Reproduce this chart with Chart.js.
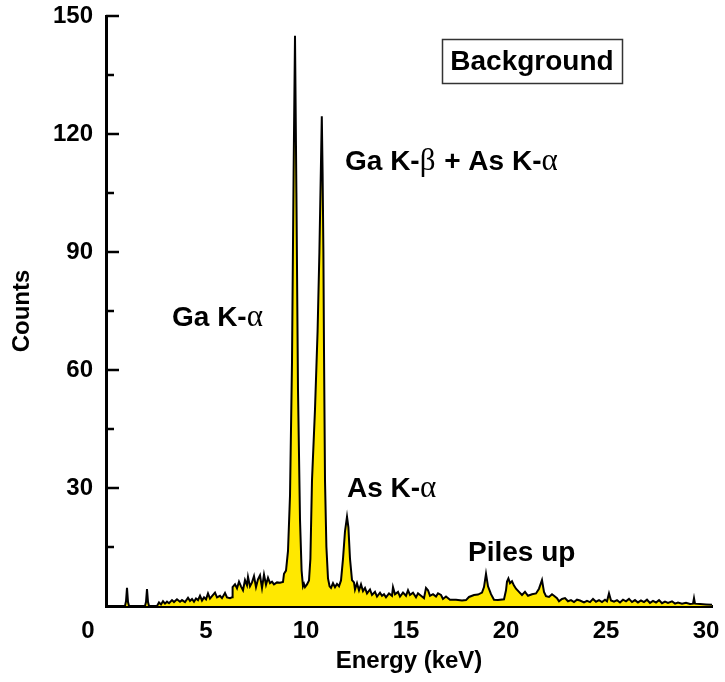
<!DOCTYPE html>
<html>
<head>
<meta charset="utf-8">
<script src="https://cdn.jsdelivr.net/npm/chart.js@4/dist/chart.umd.min.js"></script>
<style>
  html, body { margin: 0; padding: 0; background: #fff; }
  canvas { display: block; }
</style>
</head>
<body>
<canvas id="spectrum" width="725" height="682"></canvas>
<script>
// X-ray fluorescence spectrum: energy (keV) and detector counts
const energyKeV = [
  0, 0.95, 1.0, 1.05, 1.1, 1.15, 1.95, 2.0, 2.05, 2.1, 2.15, 2.55,
  2.65, 2.75, 2.85, 2.95, 3.05, 3.15, 3.3, 3.4, 3.55, 3.7, 3.8, 3.95,
  4.1, 4.2, 4.3, 4.4, 4.5, 4.6, 4.7, 4.8, 4.9, 5.0, 5.1, 5.2,
  5.3, 5.45, 5.55, 5.7, 5.8, 5.95, 6.05, 6.2, 6.3, 6.33, 6.45, 6.55,
  6.65, 6.75, 6.85, 6.95, 7.05, 7.1, 7.2, 7.3, 7.4, 7.5, 7.6, 7.7,
  7.8, 7.9, 8.0, 8.1, 8.2, 8.3, 8.4, 8.55, 8.7, 8.85, 8.9, 9.0,
  9.1, 9.2, 9.3, 9.38, 9.45, 9.52, 9.6, 9.7, 9.78, 9.85, 9.9, 9.95,
  10.05, 10.15, 10.22, 10.3, 10.45, 10.58, 10.67, 10.74, 10.79, 10.83, 10.87, 10.9,
  10.95, 11.02, 11.1, 11.18, 11.25, 11.35, 11.45, 11.55, 11.65, 11.75, 11.85, 11.95,
  12.05, 12.12, 12.2, 12.3, 12.4, 12.45, 12.55, 12.65, 12.75, 12.85, 12.95, 13.05,
  13.2, 13.3, 13.45, 13.55, 13.7, 13.8, 13.9, 14.0, 14.15, 14.3, 14.35, 14.45,
  14.6, 14.7, 14.85, 15.0, 15.1, 15.2, 15.35, 15.5, 15.6, 15.75, 15.9, 16.0,
  16.1, 16.2, 16.35, 16.5, 16.6, 16.75, 16.85, 17.0, 17.2, 17.5, 17.8, 18.0,
  18.15, 18.4, 18.6, 18.8, 18.9, 19.0, 19.1, 19.25, 19.4, 19.6, 19.9, 20.0,
  20.05, 20.12, 20.2, 20.3, 20.4, 20.5, 20.65, 20.8, 20.95, 21.1, 21.3, 21.5,
  21.65, 21.8, 21.9, 22.0, 22.15, 22.3, 22.4, 22.55, 22.65, 22.8, 22.95, 23.1,
  23.25, 23.4, 23.55, 23.7, 23.9, 24.05, 24.2, 24.35, 24.5, 24.65, 24.8, 24.95,
  25.05, 25.15, 25.25, 25.4, 25.55, 25.7, 25.85, 26.0, 26.15, 26.3, 26.45, 26.6,
  26.75, 26.9, 27.05, 27.2, 27.35, 27.5, 27.65, 27.8, 27.95, 28.1, 28.3, 28.45,
  28.6, 28.8, 29.0, 29.2, 29.35, 29.4, 29.45, 29.7, 30.0, 30.3
];
const counts = [
  0, 0, 1.2, 4.6, 1.0, 0, 0, 1.0, 4.3, 1.0, 0, 0,
  0.9, 0.4, 1.2, 0.6, 1.1, 0.7, 1.5, 1.0, 1.7, 1.1, 1.5, 1.0,
  2.1, 1.3, 1.8, 1.1, 1.9, 1.5, 2.6, 1.4, 2.2, 1.7, 3.2, 1.9,
  2.5, 3.4, 2.2, 2.6, 2.0, 3.3, 2.2, 2.0, 2.2, 4.8, 5.5, 4.5,
  6.2, 5.0, 4.0, 6.6, 5.3, 7.4, 5.0, 6.0, 7.6, 4.8, 6.8, 7.8,
  4.6, 8.0, 5.4, 7.2, 5.8, 6.2, 5.5, 6.0, 5.9, 6.1, 8.2, 9.0,
  14, 28, 62, 110, 145, 105, 55, 22, 9, 5, 5.6, 4.8,
  5.5, 6.5, 12, 32, 50, 70, 90, 110, 124.5, 110, 90, 65,
  32, 15, 7, 5, 4.6, 5.8, 4.8, 5.6, 5.0, 6.5, 12, 19,
  22.7, 20, 12, 6.6, 6.0, 4.2, 5.8, 4.0, 5.5, 3.8, 4.6, 3.2,
  4.2, 2.8, 3.6, 2.4, 3.4, 2.6, 3.0, 2.2, 3.2, 2.6, 4.8, 3.0,
  3.6, 2.4, 3.4, 2.6, 4.0, 2.8, 3.4, 2.2, 3.2, 2.6, 2.0, 4.6,
  4.0, 2.6, 3.0, 2.4, 3.2, 2.8, 1.8, 2.4, 1.6, 1.6, 1.4, 1.5,
  2.3, 2.8, 2.9, 3.4, 4.8, 8.2, 5.0, 3.0, 1.6, 1.5, 1.7, 4.0,
  6.2, 7.0, 5.8, 6.3, 5.2, 4.4, 3.6, 2.8, 3.6, 2.6, 3.0, 3.2,
  4.4, 6.6, 3.6, 2.5, 2.3, 3.0, 2.6, 2.0, 1.2, 1.8, 2.0, 1.2,
  1.5, 1.0, 1.6, 1.4, 0.9, 1.3, 1.0, 1.8, 1.1, 1.5, 1.0, 1.6,
  1.2, 3.2, 1.4, 1.1, 1.5, 0.9, 1.6, 1.2, 1.8, 1.0, 1.5, 0.9,
  1.4, 1.0, 1.6, 0.8, 1.3, 0.9, 1.5, 0.7, 1.1, 0.8, 1.2, 0.6,
  0.9, 0.6, 0.8, 0.5, 0.6, 2.0, 0.6, 0.5, 0.4, 0.3
];

// Axis ranges and labelled ticks
const xTickValues = [0, 5, 10, 15, 20, 25, 30];
const yTickLabels = [30, 60, 90, 120, 150];

// Peak annotations, anchored in data coordinates (energy, counts)
const annotations = [
  { x: 3.3,   y: 71.2,  parts: [['Ga K-', 'b'], ['\u03B1', 'g']] },
  { x: 11.95, y: 110.9, parts: [['Ga K-', 'b'], ['\u03B2', 'g'], [' + As K-', 'b'], ['\u03B1', 'g']] },
  { x: 12.05, y: 27.7,  parts: [['As K-', 'b'], ['\u03B1', 'g']] },
  { x: 18.1,  y: 11.4,  parts: [['Piles up', 'b']] }
];
const boxLabel = { x: 21.3, y: 138.6, text: 'Background' };

const points = energyKeV.map((e, i) => ({ x: e, y: counts[i] }));

const SANS = '"Liberation Sans", Arial, Helvetica, sans-serif';
const SERIF = '"Liberation Serif", "Times New Roman", serif';

// Inward tick marks on the counts axis (long every 30, short every 15)
const inwardTicks = {
  id: 'inwardTicks',
  afterDatasetsDraw(chart) {
    const y = chart.scales.y;
    const left = chart.chartArea.left;
    const ctx = chart.ctx;
    ctx.save();
    ctx.strokeStyle = '#000';
    ctx.lineWidth = 2.5;
    y.ticks.forEach(t => {
      if (t.value <= 0) return;
      const py = Math.round(y.getPixelForValue(t.value));
      const len = yTickLabels.includes(t.value) ? 13 : 8;
      ctx.beginPath();
      ctx.moveTo(left, py);
      ctx.lineTo(left + len, py);
      ctx.stroke();
    });
    ctx.restore();
  }
};

// Origin label on the energy axis, set a little left of the corner
const originLabel = {
  id: 'originLabel',
  afterDraw(chart) {
    const x = chart.scales.x;
    const ctx = chart.ctx;
    ctx.save();
    ctx.font = 'bold 24px ' + SANS;
    ctx.fillStyle = '#000';
    ctx.textAlign = 'center';
    ctx.textBaseline = 'middle';
    ctx.fillText('0', x.getPixelForValue(0) - 18, chart.chartArea.bottom + 11 + 14.4);
    ctx.restore();
  }
};

// Text labels for the peaks and the boxed title
const peakLabels = {
  id: 'peakLabels',
  afterDraw(chart) {
    const xs = chart.scales.x, ys = chart.scales.y;
    const ctx = chart.ctx;
    ctx.save();
    ctx.fillStyle = '#000';
    ctx.textBaseline = 'alphabetic';
    ctx.textAlign = 'left';
    const fonts = { b: 'bold 28px ' + SANS, g: '31px ' + SERIF };
    annotations.forEach(a => {
      let px = xs.getPixelForValue(a.x);
      const py = ys.getPixelForValue(a.y);
      a.parts.forEach(([t, f]) => {
        ctx.font = fonts[f];
        ctx.fillText(t, px, py);
        px += ctx.measureText(t).width + (f === 'g' ? 1 : 0);
      });
    });
    const cx = xs.getPixelForValue(boxLabel.x);
    const cy = ys.getPixelForValue(boxLabel.y);
    ctx.font = 'bold 28px ' + SANS;
    ctx.textAlign = 'center';
    ctx.textBaseline = 'middle';
    ctx.fillText(boxLabel.text, cx, cy + 1);
    ctx.strokeStyle = '#333';
    ctx.lineWidth = 1.5;
    ctx.strokeRect(Math.round(cx - 90) + 0.5, Math.round(cy - 22) + 0.5, 180, 44);
    ctx.restore();
  }
};

new Chart(document.getElementById('spectrum'), {
  type: 'line',
  data: {
    datasets: [{
      data: points,
      borderColor: '#000',
      borderWidth: 2,
      backgroundColor: '#ffe800',
      fill: 'origin',
      pointRadius: 0,
      tension: 0,
      borderJoinStyle: 'miter'
    }]
  },
  options: {
    responsive: false,
    animation: false,
    events: [],
    layout: { padding: { top: 16, right: 13, left: 0, bottom: 0 } },
    plugins: { legend: { display: false }, tooltip: { enabled: false } },
    scales: {
      x: {
        type: 'linear',
        min: 0,
        max: 30.3,
        afterBuildTicks: s => { s.ticks = xTickValues.map(v => ({ value: v })); },
        ticks: {
          includeBounds: false,
          color: '#000',
          padding: 11,
          maxRotation: 0,
          font: { family: SANS, size: 24, weight: 'bold' },
          callback: v => (v === 0 ? '' : String(v))
        },
        grid: { display: false, drawTicks: false },
        border: { display: true, color: '#000', width: 3 },
        title: {
          display: true,
          text: 'Energy (keV)',
          color: '#000',
          font: { family: SANS, size: 24, weight: 'bold' },
          padding: { top: 0, bottom: 6 }
        },
        afterFit: s => {
          s.height = 76;
          s.paddingLeft = 0;
          s.paddingRight = 0;
        }
      },
      y: {
        type: 'linear',
        min: 0,
        max: 150,
        ticks: {
          stepSize: 15,
          color: '#000',
          padding: 13,
          font: { family: SANS, size: 24, weight: 'bold' },
          callback: v => (yTickLabels.includes(v) ? String(v) : '')
        },
        grid: { display: false, drawTicks: false },
        border: { display: true, color: '#000', width: 3 },
        title: {
          display: true,
          text: 'Counts',
          color: '#000',
          font: { family: SANS, size: 24, weight: 'bold' },
          padding: { top: 8, bottom: 0 }
        },
        afterFit: s => {
          s.width = 106;
          s.paddingTop = 0;
          s.paddingBottom = 0;
        }
      }
    }
  },
  plugins: [inwardTicks, originLabel, peakLabels]
});
</script>
</body>
</html>
